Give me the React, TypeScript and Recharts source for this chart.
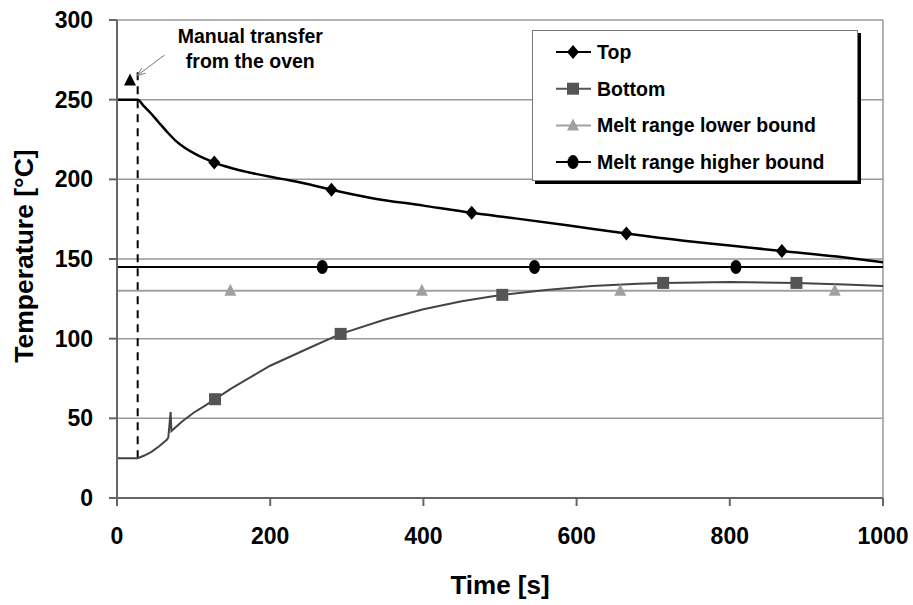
import React from 'react';
import { LineChart, Line, XAxis, YAxis, CartesianGrid, ReferenceLine, ReferenceDot, Label } from 'recharts';

const FONT = '"Liberation Sans", Arial, sans-serif';

// Top (surface) temperature curve
const topTime = [0, 27, 35, 45, 54, 65, 76, 88, 102, 115, 127, 150, 171, 215, 258, 280, 330, 400, 463, 520, 590, 665, 740, 800, 868, 940, 1000];
const topTemp = [250, 250, 246, 241, 236, 230, 224.5, 220, 216, 213, 210.5, 207, 204.5, 200.3, 196, 193.5, 188.5, 183.5, 179, 175.5, 171, 166, 161.5, 158.5, 155, 151.5, 148];
const topMarks = [127, 280, 463, 665, 868];

// Bottom temperature curve
const bottomTime = [0, 27, 35, 45, 55, 65, 67, 70, 71, 85, 100, 115, 128, 150, 175, 200, 250, 292, 350, 400, 450, 503, 560, 620, 680, 713, 800, 887, 950, 1000];
const bottomTemp = [25, 25, 26.5, 29, 32.5, 36.5, 38, 54, 42, 48, 53.5, 58, 62, 69, 76, 83, 94, 103, 112, 118.5, 123.5, 127.5, 130.5, 133, 134.5, 135, 135.5, 135, 134, 133];
const bottomMarks = [128, 292, 503, 713, 887];

// Melt range bounds
const lowerTime = [0, 148, 398, 657, 937, 1000];
const lowerTemp = [130, 130, 130, 130, 130, 130];
const lowerMarks = [148, 398, 657, 937];

const higherTime = [0, 268, 545, 808, 1000];
const higherTemp = [145, 145, 145, 145, 145];
const higherMarks = [268, 545, 808];

const xTicks = [0, 200, 400, 600, 800, 1000];
const yTicks = [0, 50, 100, 150, 200, 250, 300];

const seriesNames = ['Top', 'Bottom', 'Melt range lower bound', 'Melt range higher bound'];

const build = (ts: number[], vs: number[], marks: number[]) =>
  ts.map((t, i) => ({ t, v: vs[i], m: marks.includes(t) }));

const topData = build(topTime, topTemp, topMarks);
const bottomData = build(bottomTime, bottomTemp, bottomMarks);
const lowerData = build(lowerTime, lowerTemp, lowerMarks);
const higherData = build(higherTime, higherTemp, higherMarks);

// transfer annotation
const transferTime = 27;
const transferFrom = 25;
const transferTo = 268;

const Diamond = ({ cx, cy }: any) => <path d={`M${cx},${cy - 7} L${cx + 6},${cy} L${cx},${cy + 7} L${cx - 6},${cy} Z`} fill="#000" />;
const Square = ({ cx, cy }: any) => <rect x={cx - 6} y={cy - 6} width={12} height={12} fill="#555" />;
const Tri = ({ cx, cy, fill }: any) => <path d={`M${cx},${cy - 7} L${cx + 6},${cy + 5} L${cx - 6},${cy + 5} Z`} fill={fill || '#a0a0a0'} />;
const Circ = ({ cx, cy }: any) => <ellipse cx={cx} cy={cy} rx={5.5} ry={7} fill="#000" />;

const markerDot = (Comp: any) => (props: any) => {
  const { cx, cy, payload, index } = props;
  if (!payload || !payload.m) return <g key={`e${index}`} />;
  return <g key={`m${index}`}><Comp cx={cx} cy={cy} /></g>;
};

const legendStyles = [
  { color: '#000', Comp: Diamond },
  { color: '#555', Comp: Square },
  { color: '#a0a0a0', Comp: Tri },
  { color: '#000', Comp: Circ },
];

const tickStyle = { fill: '#000', fontSize: 23, fontWeight: 'bold', fontFamily: FONT };

export default function App() {
  return (
    <div style={{ position: 'absolute', left: 0, top: 0, width: 913, height: 605, background: '#fff' }}>
      <LineChart width={913} height={605} margin={{ top: 20, right: 30, left: 0, bottom: 0 }}>
        <CartesianGrid vertical={false} stroke="#999" strokeWidth={1.5} />
        <XAxis
          type="number"
          dataKey="t"
          domain={[0, 1000]}
          ticks={xTicks}
          height={107}
          tickSize={8}
          tickMargin={22}
          stroke="#666"
          strokeWidth={2}
          tick={tickStyle}
          allowDataOverflow
        >
          <Label
            content={() => (
              <text x={500} y={594} textAnchor="middle" fontSize={26} fontWeight="bold" fontFamily={FONT} fill="#000">
                Time [s]
              </text>
            )}
          />
        </XAxis>
        <YAxis
          type="number"
          domain={[0, 300]}
          ticks={yTicks}
          width={117}
          tickSize={8}
          tickMargin={16}
          stroke="#666"
          strokeWidth={2}
          tick={tickStyle}
          allowDataOverflow
        >
          <Label
            content={() => (
              <text x={33} y={256} transform="rotate(-90 33 256)" textAnchor="middle" fontSize={26.5} fontWeight="bold" fontFamily={FONT} fill="#000">
                Temperature [°C]
              </text>
            )}
          />
        </YAxis>
        <ReferenceLine x={1000} stroke="#999" strokeWidth={1.5} />
        <ReferenceLine
          segment={[{ x: transferTime, y: transferFrom }, { x: transferTime, y: transferTo }]}
          stroke="#000"
          strokeWidth={2}
          strokeDasharray="8 6"
        />
        <Line data={lowerData} dataKey="v" name={seriesNames[2]} type="linear" stroke="#a0a0a0" strokeWidth={2} dot={markerDot(Tri)} activeDot={false} isAnimationActive={false} />
        <Line data={higherData} dataKey="v" name={seriesNames[3]} type="linear" stroke="#000" strokeWidth={2} dot={markerDot(Circ)} activeDot={false} isAnimationActive={false} />
        <Line data={bottomData} dataKey="v" name={seriesNames[1]} type="linear" stroke="#444" strokeWidth={2} dot={markerDot(Square)} activeDot={false} isAnimationActive={false} />
        <Line data={topData} dataKey="v" name={seriesNames[0]} type="monotone" stroke="#000" strokeWidth={2.5} dot={markerDot(Diamond)} activeDot={false} isAnimationActive={false} />
        <ReferenceLine
          segment={[{ x: 62, y: 278 }, { x: 26, y: 265 }]}
          shape={(p: any) => {
            const { x1, y1, x2, y2 } = p;
            const ang = Math.atan2(y2 - y1, x2 - x1);
            const L = 9;
            const ax = x2 - L * Math.cos(ang - 0.35);
            const ay = y2 - L * Math.sin(ang - 0.35);
            const bx = x2 - L * Math.cos(ang + 0.35);
            const by = y2 - L * Math.sin(ang + 0.35);
            return (
              <g>
                <line x1={x1} y1={y1} x2={x2} y2={y2} stroke="#777" strokeWidth={1} />
                <path d={`M${ax},${ay} L${x2},${y2} L${bx},${by}`} fill="none" stroke="#777" strokeWidth={1} />
              </g>
            );
          }}
        />
        <ReferenceDot x={17} y={262} r={0} shape={(p: any) => <Tri cx={p.cx} cy={p.cy} fill="#000" />} />
        <ReferenceDot
          x={174}
          y={278}
          r={0}
          shape={(p: any) => (
            <g>
              <text x={p.cx} y={p.cy - 12} textAnchor="middle" fontSize={19.5} fontWeight="bold" fontFamily={FONT} fill="#000">Manual transfer</text>
              <text x={p.cx} y={p.cy + 13} textAnchor="middle" fontSize={19.5} fontWeight="bold" fontFamily={FONT} fill="#000">from the oven</text>
            </g>
          )}
        />
      </LineChart>
      <div
        style={{
          position: 'absolute',
          left: 532,
          top: 30,
          width: 326,
          height: 151,
          border: '1px solid #777',
          boxShadow: '3px 3px 0 #000',
          background: '#fff',
          boxSizing: 'border-box',
        }}
      >
        <svg width={324} height={149} style={{ display: 'block' }}>
          {seriesNames.map((name, i) => {
            const y = 21 + i * 36.7;
            const { color, Comp } = legendStyles[i];
            return (
              <g key={name}>
                <line x1={23} y1={y} x2={58} y2={y} stroke={color} strokeWidth={2} />
                <Comp cx={40} cy={y} />
                <text x={64} y={y + 7} fontSize={19.5} fontWeight="bold" fontFamily={FONT} fill="#000">{name}</text>
              </g>
            );
          })}
        </svg>
      </div>
    </div>
  );
}
